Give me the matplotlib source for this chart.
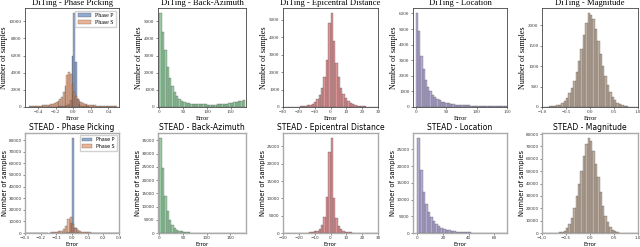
import numpy as np
import matplotlib
matplotlib.use('Agg')
import matplotlib.pyplot as plt
from matplotlib.ticker import MultipleLocator

# ---- data (bin counts) ----
# DiTing
diting_p_range = (-0.5, 0.5)
diting_p_counts = [20, 20, 20, 25, 25, 25, 30, 30, 30, 35,
                   35, 40, 40, 45, 50, 55, 60, 70, 90, 120,
                   150, 200, 300, 800, 6000, 11000, 5300, 900, 300, 150,
                   110, 90, 70, 60, 55, 50, 45, 40, 40, 35,
                   35, 30, 30, 30, 25, 25, 25, 20, 20, 20]
diting_s_counts = [110, 115, 120, 130, 140, 150, 160, 180, 200, 220,
                   250, 280, 320, 380, 450, 550, 700, 900, 1200, 1700,
                   2500, 3700, 4100, 3900, 2700, 1800, 1250, 950, 720, 560,
                   460, 390, 330, 290, 260, 230, 200, 180, 165, 150,
                   140, 130, 125, 120, 115, 110, 105, 100, 100, 95]

diting_baz_range = (0, 180)
diting_baz_counts = [5500, 4400, 3300, 2350, 1700, 1250, 900, 650, 480, 370,
                     300, 260, 230, 200, 190, 180, 170, 160, 150, 150,
                     145, 140, 140, 145, 150, 160, 170, 180, 200, 220,
                     250, 280, 320, 340, 360, 380]

diting_dist_range = (-30, 30)
diting_dist_counts = [9, 10, 12, 15, 18, 22, 28, 35, 45, 60,
                      90, 130, 200, 300, 450, 700, 1100, 1700, 2700, 4800,
                      5400, 3800, 2500, 1700, 1100, 750, 500, 330, 220, 150,
                      100, 70, 50, 40, 32, 25, 20, 16, 13, 11]

diting_loc_range = (0, 150)
diting_loc_counts = [6050, 4850, 3250, 2450, 1750, 1300, 1000, 800, 620, 500,
                     420, 350, 300, 260, 230, 200, 180, 160, 150, 140,
                     130, 120, 110, 100, 95, 90, 85, 80, 75, 70,
                     65, 60, 58, 55, 52, 50, 48, 45, 42, 40]

diting_mag_range = (-1.0, 1.0)
diting_mag_counts = [5, 8, 10, 14, 20, 28, 40, 60, 95, 150,
                     230, 330, 470, 640, 860, 1120, 1420, 1750, 2050, 2300,
                     2250, 2150, 1900, 1620, 1300, 1000, 760, 540, 370, 250,
                     160, 100, 65, 42, 28, 18, 12, 8, 6, 4]

# STEAD
stead_p_range = (-0.3, 0.3)
stead_p_counts = [40, 40, 45, 45, 50, 50, 55, 60, 65, 70,
                  80, 90, 100, 120, 150, 200, 280, 400, 800, 9000,
                  82000, 4000, 600, 300, 200, 150, 120, 100, 90, 80,
                  70, 65, 60, 55, 50, 50, 45, 45, 40, 40]
stead_s_counts = [90, 100, 110, 120, 140, 160, 190, 230, 280, 350,
                  420, 500, 650, 900, 1300, 2000, 3200, 6000, 12000, 13500,
                  8000, 4500, 2800, 1800, 1200, 850, 600, 450, 350, 280,
                  230, 190, 160, 140, 120, 110, 100, 95, 90, 85]

stead_baz_range = (0, 180)
stead_baz_counts = [36000, 24500, 14000, 8500, 5000, 3200, 2000, 1300, 900, 650,
                    450, 330, 250, 180, 140, 110, 90, 75, 60, 50,
                    45, 40, 35, 30, 28, 26, 24, 22, 20, 19,
                    18, 17, 16, 15, 14, 13]

stead_dist_range = (-30, 30)
stead_dist_counts = [10, 12, 15, 18, 22, 30, 40, 55, 75, 100,
                     140, 200, 300, 450, 700, 1200, 2200, 4500, 10500, 23500,
                     27500, 10000, 4200, 2000, 1100, 650, 420, 280, 190, 130,
                     95, 70, 50, 40, 30, 25, 20, 16, 13, 10]

stead_loc_range = (0, 70)
stead_loc_counts = [28500, 19000, 12300, 8700, 6300, 4700, 3500, 2700, 2000, 1600,
                    1250, 1000, 800, 650, 520, 420, 350, 290, 240, 200,
                    170, 140, 120, 100, 85, 75, 65, 55, 48, 42,
                    36, 32, 28, 25, 22]

stead_mag_range = (-1.0, 1.0)
stead_mag_counts = [10, 15, 25, 40, 70, 130, 250, 500, 1000, 2000,
                    3800, 7000, 12500, 20000, 30000, 40000, 50000, 62000, 72000, 77000,
                    74000, 66000, 56000, 45000, 33000, 22000, 14000, 8500, 5000, 2800,
                    1500, 800, 400, 200, 100, 55, 30, 18, 10, 6]

task_names = ['Phase Picking', 'Back-Azimuth', 'Epicentral Distance', 'Location', 'Magnitude']
task_colors = ['#dd8452', '#55a868', '#c44e52', '#8172b3', '#937860']
p_color = '#4c72b0'


def draw_hist(ax, rng, counts, color, label=None):
    edges = np.linspace(rng[0], rng[1], len(counts) + 1)
    ax.bar(edges[:-1], counts, width=np.diff(edges), align='edge',
           color=color, alpha=0.6, edgecolor='#333333', linewidth=0.3, label=label)


rows = [
    ('DiTing', ['Liberation Serif'],
     [(diting_p_range, diting_p_counts, diting_s_counts),
      (diting_baz_range, diting_baz_counts),
      (diting_dist_range, diting_dist_counts),
      (diting_loc_range, diting_loc_counts),
      (diting_mag_range, diting_mag_counts)]),
    ('STEAD', ['DejaVu Sans'],
     [(stead_p_range, stead_p_counts, stead_s_counts),
      (stead_baz_range, stead_baz_counts),
      (stead_dist_range, stead_dist_counts),
      (stead_loc_range, stead_loc_counts),
      (stead_mag_range, stead_mag_counts)]),
]

# per-row text sizes: title, xlabel, ylabel, ticks, legend
sizes = [(6.2, 4.6, 5.8, 3.6, 4.2), (5.5, 4.0, 4.9, 3.0, 3.4)]
# per-row frame style: colour, width
frames = [('#444444', 0.6), ('#aaaaaa', 1.0)]

W, H = 640, 247
fig = plt.figure(figsize=(W / 100, H / 100), dpi=100)

# axes boxes in pixels: left, width per column; top, bottom per row
col_boxes = [(25, 94), (158, 88), (283, 95), (413, 94), (542, 96)]
row_boxes = [(8, 107), (133, 233)]
xlims = [[(-0.55, 0.52), (-3, 182), (-30, 30), (-4.5, 150), (-1.0, 1.0)],
         [(-0.3, 0.3), (-3, 183), (-30, 30), (-3.5, 70), (-1.0, 1.0)]]
xsteps = [[0.2, 50, 10, 50, 0.5], [0.1, 50, 10, 20, 0.5]]
ysteps = [[2000, 1000, 1000, 1000, 500], [10000, 5000, 5000, 5000, 10000]]

for r, (dname, fam, panels) in enumerate(rows):
    top, bot = row_boxes[r]
    t_fs, xl_fs, yl_fs, tk_fs, lg_fs = sizes[r]
    fcol, fw = frames[r]
    for c, panel in enumerate(panels):
        left, width = col_boxes[c]
        ax = fig.add_axes([left / W, (H - bot) / H, width / W, (bot - top) / H])
        if c == 0:
            rng, pc, sc = panel
            draw_hist(ax, rng, pc, p_color, 'Phase P')
            draw_hist(ax, rng, sc, task_colors[0], 'Phase S')
            ax.legend(loc='upper right', prop={'family': fam, 'size': lg_fs},
                      handlelength=2.2, borderpad=0.4, labelspacing=0.3,
                      framealpha=0.9, edgecolor='#cccccc', fancybox=False)
        else:
            rng, cnt = panel
            draw_hist(ax, rng, cnt, task_colors[c])
        ax.set_xlim(*xlims[r][c])
        ax.xaxis.set_major_locator(MultipleLocator(xsteps[r][c]))
        ax.yaxis.set_major_locator(MultipleLocator(ysteps[r][c]))
        ax.set_title(f'{dname} - {task_names[c]}', family=fam, fontsize=t_fs, pad=2)
        ax.set_xlabel('Error', family=fam, fontsize=xl_fs, labelpad=1)
        ax.set_ylabel('Number of samples', family=fam, fontsize=yl_fs, labelpad=0.5)
        ax.tick_params(labelsize=tk_fs, length=1.5, width=0.4, pad=1, colors='#333333')
        for lbl in ax.get_xticklabels() + ax.get_yticklabels():
            lbl.set_family(fam)
        for sp in ax.spines.values():
            sp.set_linewidth(fw)
            sp.set_color(fcol)

fig.savefig('out.png', dpi=100)
